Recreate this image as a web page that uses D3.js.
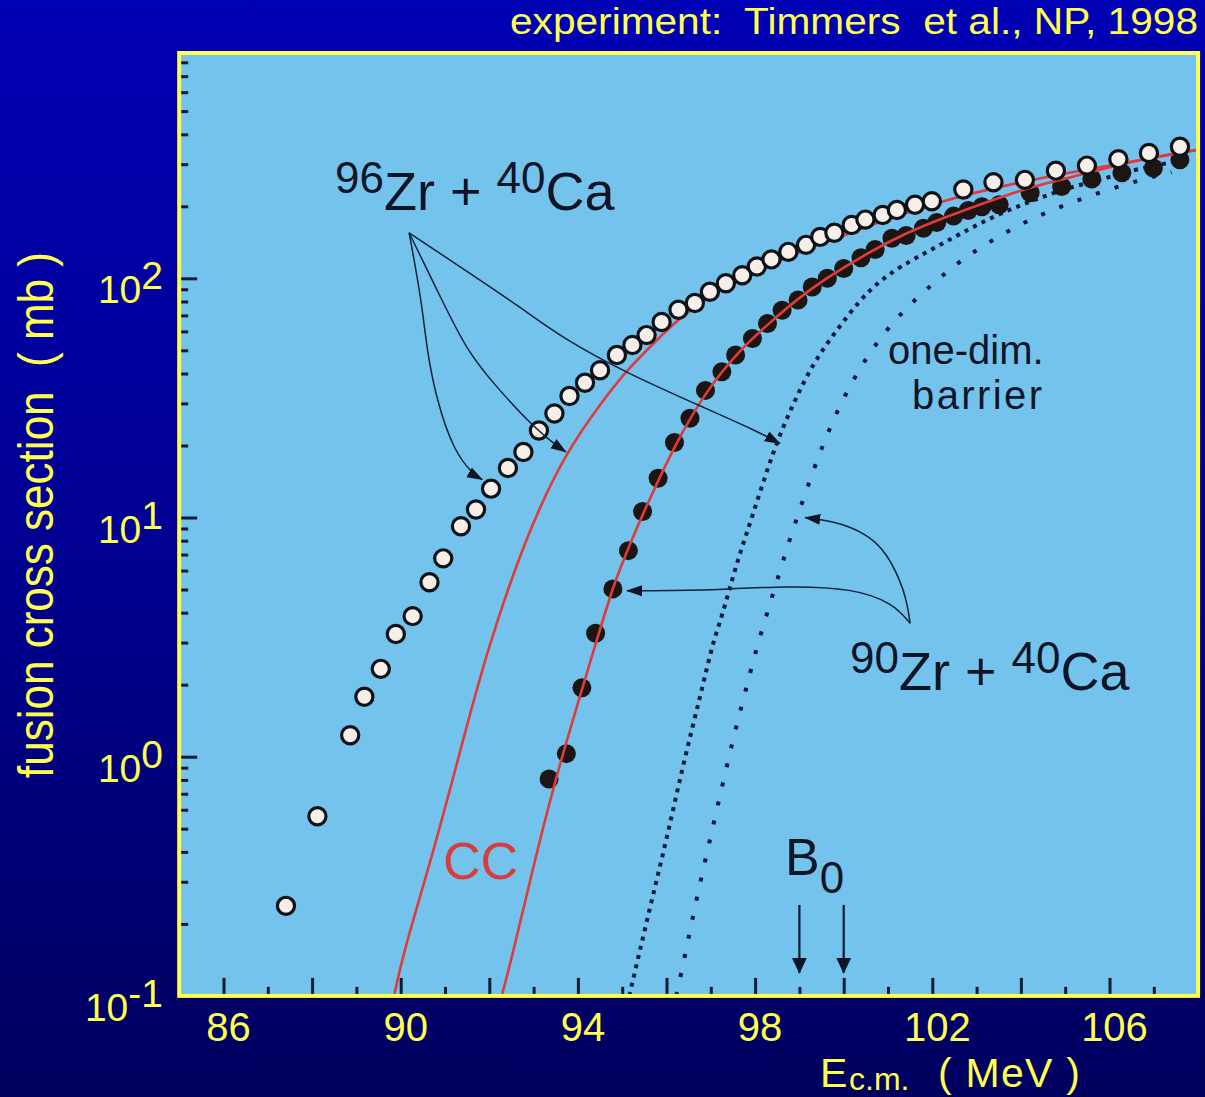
<!DOCTYPE html>
<html>
<head>
<meta charset="utf-8">
<script src="https://cdn.jsdelivr.net/npm/d3@7"></script>
<style>
  html, body { margin: 0; padding: 0; background: #000080; }
  svg { display: block; }
  text { font-family: "Liberation Sans", Arial, Helvetica, sans-serif; }
</style>
</head>
<body>
<svg id="chart" width="1205" height="1097"></svg>
<script>
// ---- measured fusion cross sections, E_cm in MeV, sigma in mb ----
const zr96Energy = [87.41, 88.12, 88.86, 89.18, 89.55, 89.89, 90.27, 90.65, 90.96, 91.36,
  91.70, 92.04, 92.42, 92.77, 93.12, 93.47, 93.81, 94.16, 94.50, 94.88,
  95.23, 95.55, 95.89, 96.27, 96.64, 96.98, 97.34, 97.71, 98.04, 98.37,
  98.75, 99.15, 99.47, 99.79, 100.18, 100.49, 100.88, 101.20, 101.61, 101.99,
  102.70, 103.38, 104.09, 104.79, 105.49, 106.20, 106.89, 107.59];
const zr96Sigma = [0.238, 0.564, 1.23, 1.78, 2.33, 3.26, 3.87, 5.36, 6.75, 9.2,
  10.8, 13.2, 16.1, 18.8, 23.1, 27.2, 32.2, 36.6, 41.3, 47.8,
  52.6, 57.9, 65.7, 73.9, 78.8, 87.9, 95.3, 103, 112, 120,
  129, 138, 149, 155, 167, 176, 184, 193, 203, 210,
  235, 252, 258, 282, 296, 315, 334, 355];

const zr90Energy = [93.35, 93.74, 94.09, 94.40, 94.79, 95.14, 95.46, 95.81, 96.18, 96.53,
  96.88, 97.25, 97.56, 97.94, 98.28, 98.61, 98.97, 99.29, 99.63, 100.00,
  100.39, 100.71, 101.09, 101.41, 101.80, 102.10, 102.48, 102.81, 103.12, 103.51,
  104.21, 104.92, 105.60, 106.28, 106.99, 107.59];
const zr90Sigma = [0.807, 1.03, 1.94, 3.28, 5.03, 7.27, 10.6, 14.6, 20.6, 26.0,
  34.0, 40.7, 47.8, 56.0, 64.7, 73.6, 81.1, 92.0, 100, 110,
  122, 132, 147, 151, 162, 171, 182, 192, 199, 203,
  228, 242, 260, 276, 289, 313];

// ---- coupled-channels calculations ----
const cc96Energy = [89.85, 90.06, 90.74, 91.34, 91.94, 92.84, 93.75, 94.57, 95.10, 95.70,
  96.23, 97.0, 98.0, 99.0, 100.0, 101.0, 102.3, 103.7, 105.0, 106.5, 108.0];
const cc96Sigma = [0.100, 0.152, 0.400, 1.05, 2.76, 8.51, 19.1, 30.9, 41.2, 53.3,
  66.8, 85.1, 107, 129, 151, 178, 213, 246, 275, 308, 345];

const cc90Energy = [92.28, 92.54, 93.07, 93.6, 94.35, 94.8, 95.2, 95.5, 96.2, 96.9,
  97.6, 98.3, 99.0, 99.6, 100.4, 101.1, 101.8, 102.5, 103.1, 103.7,
  104.6, 105.5, 106.5, 108.0];
const cc90Sigma = [0.100, 0.152, 0.400, 0.955, 2.75, 5.25, 7.94, 10.7, 20.4, 33.9,
  49.0, 64.6, 83.2, 100, 123, 145, 166, 186, 204, 224,
  251, 275, 309, 345];

// ---- one-dimensional barrier penetration ----
const oneDim96Energy = [95.16, 95.63, 96.00, 96.38, 96.76, 97.06, 97.23, 97.58, 97.96, 98.41,
  98.86, 99.31, 99.84, 100.37, 100.75, 101.27, 102.02, 102.78, 103.53, 104.28,
  105.03, 105.79, 106.53, 107.29, 107.6];
const oneDim96Sigma = [0.100, 0.236, 0.449, 0.938, 1.78, 3.08, 3.72, 6.44, 10.4, 19.1,
  30.0, 44.2, 60.8, 81.1, 95.3, 112, 133, 159, 187, 212,
  238, 258, 284, 303, 310];

const oneDim90Energy = [96.22, 96.42, 96.68, 96.98, 97.27, 97.58, 97.81, 98.02, 98.41, 98.67,
  98.94, 99.24, 99.54, 99.88, 100.29, 100.78, 101.35, 102.02, 102.69, 103.45,
  104.21, 105.03, 105.88, 106.73, 107.4];
const oneDim90Sigma = [0.100, 0.148, 0.256, 0.449, 0.774, 1.36, 1.96, 2.81, 4.82, 6.97,
  9.93, 14.4, 20.4, 28.6, 40.1, 55.2, 73.6, 95.3, 121, 148,
  177, 204, 232, 259, 278];

// barrier heights B0 (MeV)
const barrierEnergies = [99, 100];

// ---- axis ticks ----
const energyMinorTicks = d3.range(86, 108);
const energyLabels = [86, 90, 94, 98, 102, 106];
const sigmaDecades = [0.1, 1, 10, 100];
const sigmaExponents = ["-1", "0", "1", "2"];

// ---- pointer curves from the reaction labels, in (E, sigma) ----
const pointer96 = [
  [[90.19, 155], [90.47, 81.1], [90.59, 50.1], [90.81, 31.0], [91.19, 19.1], [91.64, 15.1], [91.84, 14.4]],
  [[90.19, 155], [90.93, 81.1], [91.49, 50.1], [92.09, 36.4], [92.84, 25.6], [93.44, 20.4], [93.73, 18.8]],
  [[90.19, 155], [91.56, 105], [92.69, 76.0], [93.60, 57.0], [95.10, 40.1], [96.98, 28.1], [97.99, 23.2], [98.56, 20.4]]
];
const pointer90 = [
  [[101.50, 3.61], [101.42, 4.52], [101.27, 5.48], [100.97, 7.08], [100.59, 8.32], [100.07, 9.31], [99.47, 9.82], [99.13, 10.0]],
  [[101.50, 3.61], [101.12, 4.38], [100.22, 5.06], [98.71, 5.18], [97.21, 4.98], [95.40, 4.94], [95.11, 4.94]]
];

// ---- drawing ----
const W = 1205, H = 1097;
const svg = d3.select("#chart");
const defs = svg.append("defs");

const x = d3.scaleLinear().domain([85, 108]).range([179.2, 1198.1]);
const y = d3.scaleLog().domain([0.1, 875]).range([995.9, 53]);

const inkDark = "#0d1526";
const tickColor = "#0c1a34";
const yellow = "#ffff4f";
const red = "#e03a3a";

// page background
const bg = defs.append("linearGradient").attr("id", "bg")
  .attr("x1", 0).attr("y1", 0).attr("x2", 0).attr("y2", 1);
bg.append("stop").attr("offset", "0%").attr("stop-color", "#0000b4");
bg.append("stop").attr("offset", "55%").attr("stop-color", "#00008e");
bg.append("stop").attr("offset", "100%").attr("stop-color", "#00005e");
svg.append("rect").attr("width", W).attr("height", H).attr("fill", "url(#bg)");

const px0 = x(85), px1 = x(108), py0 = y(875), py1 = y(0.1);

defs.append("clipPath").attr("id", "plotClip").append("rect")
  .attr("x", px0).attr("y", py0).attr("width", px1 - px0).attr("height", py1 - py0);

// arrow heads
defs.append("marker").attr("id", "headSmall")
  .attr("viewBox", "0 -6 16 12").attr("refX", 15).attr("refY", 0)
  .attr("markerWidth", 16).attr("markerHeight", 12)
  .attr("markerUnits", "userSpaceOnUse").attr("orient", "auto")
  .append("path").attr("d", "M0,-5.5L16,0L0,5.5Z").attr("fill", inkDark);
defs.append("marker").attr("id", "headBarrier")
  .attr("viewBox", "0 -8 16 16").attr("refX", 15).attr("refY", 0)
  .attr("markerWidth", 16).attr("markerHeight", 16)
  .attr("markerUnits", "userSpaceOnUse").attr("orient", "auto")
  .append("path").attr("d", "M0,-7.5L16,0L0,7.5Z").attr("fill", inkDark);

// plot panel
svg.append("rect")
  .attr("x", px0).attr("y", py0).attr("width", px1 - px0).attr("height", py1 - py0)
  .attr("fill", "#74c3ed");

// energy ticks (inward, long on even MeV)
const xMajor = svg.append("g").attr("transform", `translate(0,${py1})`)
  .call(d3.axisBottom(x).tickValues(energyMinorTicks.filter(v => v % 2 === 0)).tickSize(-18).tickFormat(""));
const xMinor = svg.append("g").attr("transform", `translate(0,${py1})`)
  .call(d3.axisBottom(x).tickValues(energyMinorTicks.filter(v => v % 2 !== 0)).tickSize(-9).tickFormat(""));
[xMajor, xMinor].forEach(g => {
  g.select(".domain").remove();
  g.selectAll(".tick line").attr("stroke", tickColor).attr("stroke-width", 3);
});

// cross-section ticks (inward)
const sigmaMinor = [];
sigmaDecades.forEach(d => d3.range(2, 10).forEach(k => { if (d * k < 875) sigmaMinor.push(d * k); }));
const yMajor = svg.append("g").attr("transform", `translate(${px0},0)`)
  .call(d3.axisLeft(y).tickValues(sigmaDecades).tickSize(-18).tickFormat(""));
const yMinor = svg.append("g").attr("transform", `translate(${px0},0)`)
  .call(d3.axisLeft(y).tickValues(sigmaMinor).tickSize(-9).tickFormat(""));
[yMajor, yMinor].forEach(g => {
  g.select(".domain").remove();
  g.selectAll(".tick line").attr("stroke", tickColor).attr("stroke-width", 3);
});

// curves
const plot = svg.append("g").attr("clip-path", "url(#plotClip)");
const curve = d3.line()
  .x(d => x(d[0])).y(d => y(d[1]))
  .curve(d3.curveBasis);
const pairs = (es, ss) => es.map((e, i) => [e, ss[i]]);

plot.append("path").attr("d", curve(pairs(oneDim96Energy, oneDim96Sigma)))
  .attr("fill", "none").attr("stroke", "#0a1a3a").attr("stroke-width", 4)
  .attr("stroke-dasharray", "4 5.5");
plot.append("path").attr("d", curve(pairs(oneDim90Energy, oneDim90Sigma)))
  .attr("fill", "none").attr("stroke", "#0a1a3a").attr("stroke-width", 4)
  .attr("stroke-dasharray", "4 15.5");

// 90Zr data (filled)
plot.selectAll("circle.zr90").data(pairs(zr90Energy, zr90Sigma)).join("circle")
  .attr("class", "zr90")
  .attr("cx", d => x(d[0])).attr("cy", d => y(d[1])).attr("r", 9.5)
  .attr("fill", "#1b1514");

// CC curves
[pairs(cc96Energy, cc96Sigma), pairs(cc90Energy, cc90Sigma)].forEach(c => {
  plot.append("path").attr("d", curve(c))
    .attr("fill", "none").attr("stroke", red).attr("stroke-width", 2.6);
});

// 96Zr data (open)
plot.selectAll("circle.zr96").data(pairs(zr96Energy, zr96Sigma)).join("circle")
  .attr("class", "zr96")
  .attr("cx", d => x(d[0])).attr("cy", d => y(d[1])).attr("r", 8.6)
  .attr("fill", "#f6eee9").attr("stroke", "#0e1216").attr("stroke-width", 3.2);

// pointer curves
const pointerLine = d3.line().x(d => x(d[0])).y(d => y(d[1])).curve(d3.curveBasis);
pointer96.concat(pointer90).forEach(p => {
  svg.append("path").attr("d", pointerLine(p))
    .attr("fill", "none").attr("stroke", "#10223a").attr("stroke-width", 1.5)
    .attr("marker-end", "url(#headSmall)");
});

// B0 arrows
barrierEnergies.forEach(e => {
  svg.append("line")
    .attr("x1", x(e)).attr("x2", x(e)).attr("y1", y(0.24)).attr("y2", y(0.125))
    .attr("stroke", inkDark).attr("stroke-width", 2.2)
    .attr("marker-end", "url(#headBarrier)");
});

// frame
svg.append("rect")
  .attr("x", px0).attr("y", py0).attr("width", px1 - px0).attr("height", py1 - py0)
  .attr("fill", "none").attr("stroke", yellow).attr("stroke-width", 4);

// energy tick labels
svg.append("g").selectAll("text").data(energyLabels).join("text")
  .attr("x", d => x(d) + 5).attr("y", 1041)
  .attr("text-anchor", "middle").attr("font-size", 40).attr("fill", yellow)
  .text(d => d);

// cross-section tick labels
const yl = svg.append("g").selectAll("text").data(sigmaDecades).join("text")
  .attr("x", 163).attr("y", d => y(d) + 25)
  .attr("text-anchor", "end").attr("font-size", 39).attr("fill", yellow);
yl.append("tspan").text("10");
yl.append("tspan").attr("dy", -14).text((d, i) => sigmaExponents[i]);

// axis titles
svg.append("text")
  .attr("transform", "translate(53,515) rotate(-90)")
  .attr("text-anchor", "middle").attr("font-size", 50).attr("fill", yellow)
  .attr("textLength", 526).attr("lengthAdjust", "spacingAndGlyphs")
  .style("white-space", "pre")
  .text("fusion cross section  ( mb )");

svg.append("text").attr("x", 820).attr("y", 1087).attr("font-size", 41).attr("fill", yellow).text("E");
svg.append("text").attr("x", 849).attr("y", 1090).attr("font-size", 32).attr("fill", yellow).text("c.m.");
svg.append("text").attr("x", 938).attr("y", 1087).attr("font-size", 41).attr("fill", yellow)
  .attr("textLength", 142).attr("lengthAdjust", "spacing")
  .style("white-space", "pre").text("( MeV )");

// reference line
svg.append("text")
  .attr("x", 1198).attr("y", 34).attr("text-anchor", "end")
  .attr("font-size", 36).attr("fill", yellow)
  .attr("textLength", 688).attr("lengthAdjust", "spacingAndGlyphs")
  .style("white-space", "pre")
  .text("experiment:  Timmers  et al., NP, 1998");

// reaction labels
function reactionLabel(x0, base, massNumber) {
  const t = svg.append("text").attr("x", x0).attr("y", base).attr("fill", inkDark)
    .style("white-space", "pre");
  t.append("tspan").attr("font-size", 44).attr("dy", -17).text(massNumber);
  t.append("tspan").attr("font-size", 54).attr("dy", 17).text("Zr + ");
  t.append("tspan").attr("font-size", 44).attr("dy", -17).text("40");
  t.append("tspan").attr("font-size", 54).attr("dy", 17).text("Ca");
}
reactionLabel(335, 210, "96");
reactionLabel(850, 690, "90");

svg.append("text").attr("x", 888).attr("y", 364).attr("font-size", 40).attr("fill", inkDark).text("one-dim.");
svg.append("text").attr("x", 912).attr("y", 409).attr("font-size", 40).attr("fill", inkDark)
  .attr("textLength", 130).attr("lengthAdjust", "spacing").text("barrier");

svg.append("text").attr("x", 443).attr("y", 879).attr("font-size", 52).attr("fill", "#d93c3c").text("CC");

const b0 = svg.append("text").attr("x", 785).attr("y", 875).attr("fill", inkDark);
b0.append("tspan").attr("font-size", 52).text("B");
b0.append("tspan").attr("font-size", 44).attr("dy", 18).text("0");
</script>
</body>
</html>
